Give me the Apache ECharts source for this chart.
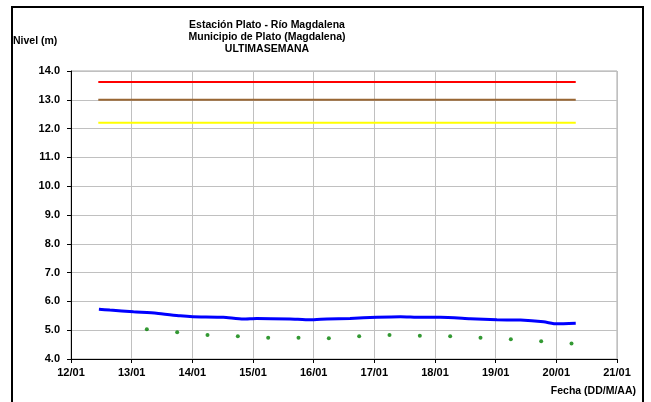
<!DOCTYPE html>
<html>
<head>
<meta charset="utf-8">
<script src="https://cdn.jsdelivr.net/npm/echarts@6/dist/echarts.min.js"></script>
<style>html,body{margin:0;padding:0;background:#fff}#c{width:651px;height:402px}</style>
</head>
<body>
<div id="c"></div>
<script>
// Day of January (fractional) and level in metres
const levelDays = [12.46, 12.64, 13.03, 13.41, 13.80, 14.01, 14.51, 14.84, 15.06, 15.61, 15.94, 16.22, 16.60, 17.04, 17.43, 17.76, 18.09, 18.58, 19.02, 19.41, 19.79, 20.01, 20.32];
const levelValues = [5.73, 5.70, 5.64, 5.59, 5.50, 5.47, 5.45, 5.39, 5.41, 5.39, 5.36, 5.39, 5.41, 5.45, 5.47, 5.45, 5.45, 5.40, 5.36, 5.35, 5.29, 5.22, 5.24];
const dotDays = [13.25, 13.75, 14.25, 14.75, 15.25, 15.75, 16.25, 16.75, 17.25, 17.75, 18.25, 18.75, 19.25, 19.75, 20.25];
const dotValues = [5.03, 4.93, 4.83, 4.79, 4.74, 4.74, 4.72, 4.79, 4.83, 4.81, 4.79, 4.74, 4.69, 4.62, 4.54];
const thresholdSpan = [12.45, 20.32];
const thresholdRed = 13.62;
const thresholdBrown = 13.0;
const thresholdYellow = 12.2;
const titleLines = ['Estación Plato - Río Magdalena', 'Municipio de Plato (Magdalena)', 'ULTIMASEMANA'];

const font = 'Arial, "Liberation Sans", sans-serif';
const chart = echarts.init(document.getElementById('c'));
function hline(v, color) {
  return {
    type: 'line', data: [[thresholdSpan[0], v], [thresholdSpan[1], v]],
    symbol: 'none', lineStyle: {color: color, width: 2}, silent: true, z: 3
  };
}
chart.setOption({
  animation: false,
  grid: {left: 71, right: 34, top: 71, bottom: 43, show: true, borderColor: '#a8a8a8', borderWidth: 1},
  xAxis: {
    type: 'value', min: 12, max: 21, interval: 1,
    axisLine: {lineStyle: {color: '#000', width: 1}},
    axisTick: {show: true, length: 4, lineStyle: {color: '#000'}},
    splitLine: {show: true, lineStyle: {color: '#c0c0c0', width: 1}},
    axisLabel: {color: '#000', fontWeight: 'bold', fontSize: 11, fontFamily: font, margin: 8,
      formatter: v => (v < 10 ? '0' : '') + v + '/01'}
  },
  yAxis: {
    type: 'value', min: 4, max: 14, interval: 1,
    axisLine: {show: true, lineStyle: {color: '#000', width: 1}},
    axisTick: {show: true, length: 4, lineStyle: {color: '#000'}},
    splitLine: {show: true, lineStyle: {color: '#c0c0c0', width: 1}},
    axisLabel: {color: '#000', fontWeight: 'bold', fontSize: 11, fontFamily: font, margin: 11,
      formatter: v => v.toFixed(1)}
  },
  series: [
    hline(thresholdRed, '#ff0000'),
    hline(thresholdBrown, '#996633'),
    hline(thresholdYellow, '#ffff00'),
    {
      type: 'line', data: levelDays.map((d, i) => [d, levelValues[i]]),
      symbol: 'none', smooth: 0.2, lineStyle: {color: '#0000ff', width: 3}, z: 4
    },
    {
      type: 'scatter', data: dotDays.map((d, i) => [d, dotValues[i]]),
      symbol: 'circle', symbolSize: 4, itemStyle: {color: '#008000'}, z: 5
    }
  ],
  graphic: [
    {type: 'rect', shape: {x: 12, y: 7, width: 631, height: 410}, style: {fill: 'none', stroke: '#000', lineWidth: 2}, silent: true},
    {type: 'text', x: 267, y: 19, style: {text: titleLines.join('\n'), align: 'center', lineHeight: 12,
      font: 'bold 10.5px ' + font, fill: '#000'}},
    {type: 'text', x: 13, y: 36, style: {text: 'Nivel (m)', font: 'bold 10.5px ' + font, fill: '#000'}},
    {type: 'text', x: 636, y: 386, style: {text: 'Fecha (DD/M/AA)', align: 'right', font: 'bold 10.5px ' + font, fill: '#000'}}
  ]
});
</script>
</body>
</html>
